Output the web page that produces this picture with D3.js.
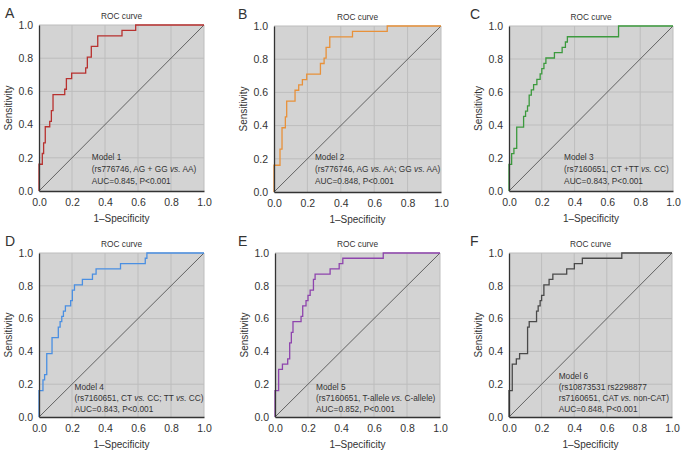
<!DOCTYPE html>
<html>
<head>
<meta charset="utf-8">
<script src="https://cdn.jsdelivr.net/npm/d3@7"></script>
<style>
  body { margin: 0; background: #fff; }
  svg text { font-family: "Liberation Sans", Arial, sans-serif; fill: #333; }
</style>
</head>
<body>
<div id="main-vis"></div>
<script>
// step corners of each ROC curve
const fpr1 = [0, 0, 0.02, 0.028, 0.038, 0.065, 0.075, 0.085, 0.156, 0.166, 0.198, 0.283, 0.293, 0.317, 0.356, 0.503, 0.586, 1]
const tpr1 = [0, 0.161, 0.226, 0.290, 0.387, 0.419, 0.484, 0.581, 0.613, 0.677, 0.710, 0.742, 0.806, 0.871, 0.935, 0.968, 1, 1]

const fpr2 = [0, 0, 0.036, 0.048, 0.068, 0.076, 0.126, 0.148, 0.17, 0.196, 0.278, 0.3, 0.312, 0.334, 0.47, 0.678, 1]
const tpr2 = [0, 0.161, 0.258, 0.387, 0.452, 0.548, 0.613, 0.645, 0.677, 0.710, 0.774, 0.806, 0.871, 0.935, 0.968, 1, 1]

const fpr3 = [0, 0, 0.016, 0.030, 0.047, 0.089, 0.101, 0.113, 0.123, 0.136, 0.150, 0.170, 0.190, 0.200, 0.213, 0.225, 0.277, 0.324, 0.344, 0.356, 0.668, 1]
const tpr3 = [0, 0.161, 0.226, 0.258, 0.387, 0.452, 0.484, 0.516, 0.581, 0.613, 0.645, 0.677, 0.710, 0.742, 0.774, 0.806, 0.839, 0.871, 0.903, 0.935, 1, 1]

const fpr4 = [0, 0, 0.024, 0.034, 0.047, 0.079, 0.117, 0.128, 0.138, 0.148, 0.160, 0.192, 0.202, 0.215, 0.263, 0.324, 0.346, 0.494, 0.644, 0.654, 1]
const tpr4 = [0, 0.161, 0.226, 0.258, 0.387, 0.484, 0.548, 0.581, 0.613, 0.645, 0.677, 0.710, 0.774, 0.806, 0.839, 0.871, 0.903, 0.935, 0.968, 1, 1]

const fpr5 = [0, 0, 0.022, 0.045, 0.077, 0.089, 0.099, 0.109, 0.158, 0.168, 0.188, 0.200, 0.213, 0.233, 0.243, 0.334, 0.389, 0.411, 0.656, 1]
const tpr5 = [0, 0.161, 0.290, 0.323, 0.355, 0.452, 0.516, 0.581, 0.613, 0.677, 0.710, 0.742, 0.774, 0.839, 0.871, 0.903, 0.935, 0.968, 1, 1]

const fpr6 = [0, 0, 0.020, 0.045, 0.065, 0.114, 0.124, 0.169, 0.179, 0.191, 0.200, 0.214, 0.246, 0.269, 0.354, 0.401, 0.450, 0.692, 1]
const tpr6 = [0, 0.161, 0.323, 0.355, 0.387, 0.548, 0.581, 0.645, 0.677, 0.710, 0.742, 0.806, 0.839, 0.871, 0.903, 0.935, 0.968, 1, 1]

const panelLetters = ['A', 'B', 'C', 'D', 'E', 'F']
const notes = [
    ['Model 1', '(rs776746, AG + GG vs. AA)', 'AUC=0.845, P<0.001'],
    ['Model 2', '(rs776746, AG vs. AA; GG vs. AA)', 'AUC=0.848, P<0.001'],
    ['Model 3', '(rs7160651, CT +TT vs. CC)', 'AUC=0.843, P<0.001'],
    ['Model 4', '(rs7160651, CT vs. CC; TT vs. CC)', 'AUC=0.843, P<0.001'],
    ['Model 5', '(rs7160651, T-allele vs. C-allele)', 'AUC=0.852, P<0.001'],
    ['Model 6', '(rs10873531 rs2298877', 'rs7160651, CAT vs. non-CAT)', 'AUC=0.848, P<0.001']
]
const ticks = [0, 0.2, 0.4, 0.6, 0.8, 1.0]

const curves = [[fpr1, tpr1], [fpr2, tpr2], [fpr3, tpr3], [fpr4, tpr4], [fpr5, tpr5], [fpr6, tpr6]]
const colors = ['#b8312f', '#e8913a', '#3c9a3e', '#4a8fe2', '#8e44ad', '#4a4a4a']

// plot boxes in pixels, and where the note sits (x in data units, first baseline px)
const boxes = [
    {x0: 39, x1: 204, y0: 25, y1: 191, lx: 5, nx: 0.32, ny: 160, dy: 12},
    {x0: 274, x1: 441, y0: 26, y1: 192, lx: 238, nx: 0.245, ny: 160, dy: 12},
    {x0: 509, x1: 673, y0: 26, y1: 191, lx: 470, nx: 0.336, ny: 160, dy: 12},
    {x0: 39, x1: 204, y0: 253, y1: 417, lx: 5, nx: 0.215, ny: 390, dy: 11},
    {x0: 275, x1: 440, y0: 253, y1: 417, lx: 238, nx: 0.249, ny: 390, dy: 11},
    {x0: 509, x1: 672, y0: 253, y1: 417, lx: 470, nx: 0.305, ny: 379, dy: 11}
]

const svg = d3.create('svg')
    .attr('width', 681)
    .attr('height', 451)

boxes.forEach((b, i) => {
    const x = d3.scaleLinear().domain([0, 1]).range([b.x0, b.x1])
    const y = d3.scaleLinear().domain([0, 1]).range([b.y1, b.y0])
    const g = svg.append('g')

    g.append('rect')
        .attr('x', b.x0).attr('y', b.y0)
        .attr('width', b.x1 - b.x0).attr('height', b.y1 - b.y0)
        .attr('fill', '#d3d3d3')

    // grid
    g.selectAll('.gx').data(ticks.slice(1)).join('line')
        .attr('class', 'gx')
        .attr('x1', d => x(d)).attr('x2', d => x(d))
        .attr('y1', b.y0).attr('y2', b.y1)
        .attr('stroke', '#bdbdbd').attr('stroke-width', 1)
    g.selectAll('.gy').data(ticks.slice(1)).join('line')
        .attr('class', 'gy')
        .attr('y1', d => y(d)).attr('y2', d => y(d))
        .attr('x1', b.x0).attr('x2', b.x1)
        .attr('stroke', '#bdbdbd').attr('stroke-width', 1)

    // reference diagonal
    g.append('line')
        .attr('x1', x(0)).attr('y1', y(0)).attr('x2', x(1)).attr('y2', y(1))
        .attr('stroke', '#555').attr('stroke-width', 0.9)

    // roc curve
    const [fx, ty] = curves[i]
    const line = d3.line()
        .x(d => x(fx[d]))
        .y(d => y(ty[d]))
        .curve(d3.curveStepAfter)
    g.append('path')
        .attr('d', line(d3.range(fx.length)))
        .attr('fill', 'none')
        .attr('stroke', colors[i])
        .attr('stroke-width', 1.3)

    // axes drawn over the curve start
    const xa = g.append('g')
        .attr('transform', `translate(0,${b.y1})`)
        .call(d3.axisBottom(x).tickValues(ticks).tickFormat(d3.format('.1f')).tickSize(0).tickPadding(8))
    const ya = g.append('g')
        .attr('transform', `translate(${b.x0},0)`)
        .call(d3.axisLeft(y).tickValues(ticks).tickFormat(d3.format('.1f')).tickSize(0).tickPadding(6))
    for (const a of [xa, ya]) {
        a.select('.domain').attr('stroke', '#333').attr('stroke-width', 1.3)
        a.selectAll('text').attr('font-size', 10.5).attr('fill', '#333')
            .attr('font-family', '"Liberation Sans", Arial, sans-serif')
    }

    // texts
    g.append('text')
        .attr('x', (b.x0 + b.x1) / 2).attr('y', b.y0 - 6)
        .attr('text-anchor', 'middle').attr('font-size', 8.3)
        .text('ROC curve')
    g.append('text')
        .attr('x', (b.x0 + b.x1) / 2).attr('y', b.y1 + 31)
        .attr('text-anchor', 'middle').attr('font-size', 10)
        .text('1\u2013Specificity')
    g.append('text')
        .attr('transform', `translate(${b.x0 - 27},${(b.y0 + b.y1) / 2}) rotate(-90)`)
        .attr('text-anchor', 'middle').attr('font-size', 10)
        .text('Sensitivity')
    g.append('text')
        .attr('x', b.lx).attr('y', b.y0 - 7)
        .attr('font-size', 14).attr('fill', '#222')
        .text(panelLetters[i])

    notes[i].forEach((s, k) => {
        const t = g.append('text')
            .attr('x', x(b.nx)).attr('y', b.ny + k * b.dy)
            .attr('font-size', 8.3)
        const parts = s.split('vs.')
        parts.forEach((p, j) => {
            t.append('tspan').text(p)
            if (j < parts.length - 1) t.append('tspan').attr('font-style', 'italic').text('vs.')
        })
    })
})

document.querySelector('#main-vis').appendChild(svg.node())
</script>
</body>
</html>
